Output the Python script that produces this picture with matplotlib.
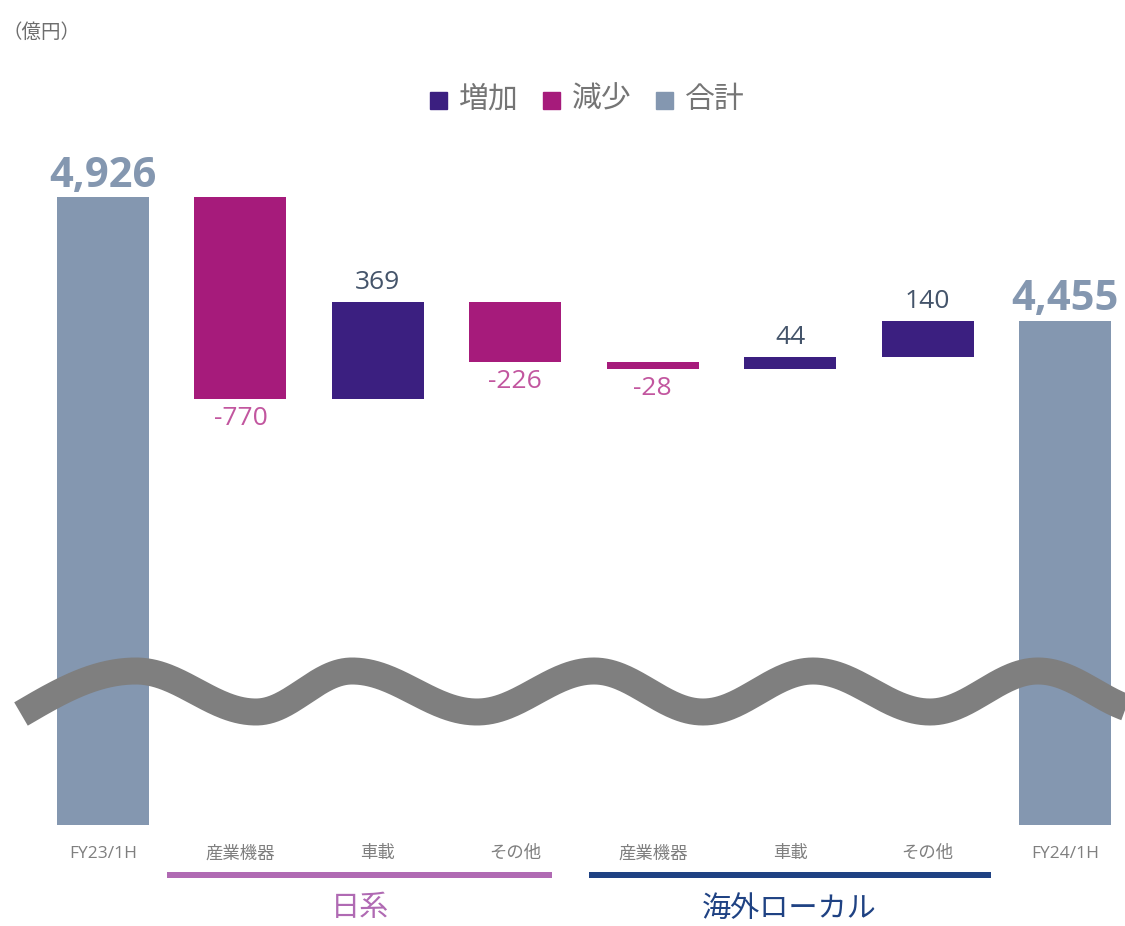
import numpy as np
import matplotlib
matplotlib.use("Agg")
import matplotlib.pyplot as plt

plt.rcParams['font.family'] = ['Open Sans', 'Noto Sans CJK JP', 'DejaVu Sans']

# --- data ---
categories = ["FY23/1H", "産業機器", "車載", "その他", "産業機器", "車載", "その他", "FY24/1H"]
start_total = 4926
changes = [-770, 369, -226, -28, 44, 140]
end_total = 4455
groups = ["日系", "海外ローカル"]
group_spans = [(1, 3), (4, 6)]

C_UP = "#3B1F80"
C_DOWN = "#A61B7B"
C_TOTAL = "#8497B0"
C_UP_TXT = "#44546A"
C_DOWN_TXT = "#C2569F"
GROUP_COLORS = ["#B06AB3", "#1F4283"]
GROUP_PAD = [(73, 37), (64, 63)]

W, H = 1125, 926
fig = plt.figure(figsize=(W / 100, H / 100), dpi=100)

# main axes spans the full width, from y=150px to y=825px
ax = fig.add_axes([0, (H - 825) / H, 1, (825 - 150) / H])
px_per_unit = 0.2625
ymin = start_total - (825 - 197) / px_per_unit
ymax = start_total + (197 - 150) / px_per_unit
ax.set_ylim(ymin, ymax)
step = 137.43
ax.set_xlim(-103 / step, (W - 103) / step)
ax.axis("off")

bw = 0.67
x = np.arange(len(categories))

# totals
for xi, val in [(0, start_total), (7, end_total)]:
    ax.bar(xi, val - ymin, bottom=ymin, width=bw, color=C_TOTAL)
    ax.annotate(f"{val:,}", (xi, val), xytext=(0, 15), textcoords="offset points",
                ha="center", va="center", fontsize=30, fontweight="bold", color=C_TOTAL)

# changes
level = start_total
for i, d in enumerate(changes):
    xi = i + 1
    if d >= 0:
        ax.bar(xi, d, bottom=level, width=bw, color=C_UP)
        ax.annotate(f"{d}", (xi, level + d), xytext=(0, 14), textcoords="offset points",
                    ha="center", va="center", fontsize=19, color=C_UP_TXT)
    else:
        ax.bar(xi, -d, bottom=level + d, width=bw, color=C_DOWN)
        ax.annotate(f"{d}", (xi, level + d), xytext=(0, -14), textcoords="offset points",
                    ha="center", va="center", fontsize=19, color=C_DOWN_TXT)
    level += d

# overlay in pixel coordinates for the break wave and labels
ov = fig.add_axes([0, 0, 1, 1], zorder=5)
ov.set_xlim(0, W)
ov.set_ylim(H, 0)
ov.axis("off")
ov.patch.set_alpha(0)

# break mark: smooth wave through alternating crests/troughs
ext_x = [21, 136, 256, 352, 477, 594, 703, 813, 930, 1038, 1150]
ext_y = [714, 671, 712, 671, 712, 671, 712, 671, 712, 671, 712]
wx, wy = [], []
for j in range(len(ext_x) - 1):
    t = np.linspace(0, 1, 60)
    if j == 0:
        ease = np.sin(np.pi / 2 * t)
    else:
        ease = (1 - np.cos(np.pi * t)) / 2
    wx.extend(ext_x[j] + (ext_x[j + 1] - ext_x[j]) * t)
    wy.extend(ext_y[j] + (ext_y[j + 1] - ext_y[j]) * ease)
ov.plot(wx, wy, color="#7F7F7F", lw=27 * 0.72, solid_capstyle="butt", zorder=6)

# category labels
for xi, lab in zip(x, categories):
    px = 103 + xi * step
    ov.text(px, 854, lab, ha="center", va="center", fontsize=12.5, color="#7F7F7F")

# group underline and labels
for (a, b), (pl, pr), g, c in zip(group_spans, GROUP_PAD, groups, GROUP_COLORS):
    x0 = 103 + a * step - pl
    x1 = 103 + b * step + pr
    ov.plot([x0, x1], [875, 875], color=c, lw=6 * 0.72, solid_capstyle="butt")
    ov.text((x0 + x1) / 2, 909, g, ha="center", va="center", fontsize=21, color=c)

# unit
ov.text(2, 33, "（億円）", ha="left", va="center", fontsize=14, color="#6E6E6E")

# legend
lx, ly = 430, 100
items = [("増加", C_UP), ("減少", C_DOWN), ("合計", C_TOTAL)]
for lab, c in items:
    ov.add_patch(plt.Rectangle((lx, ly - 8.5), 17, 17, color=c))
    ov.text(lx + 29, ly, lab, ha="left", va="center", fontsize=21.5, color="#757575")
    lx += 113

fig.savefig("out.png", dpi=100)
